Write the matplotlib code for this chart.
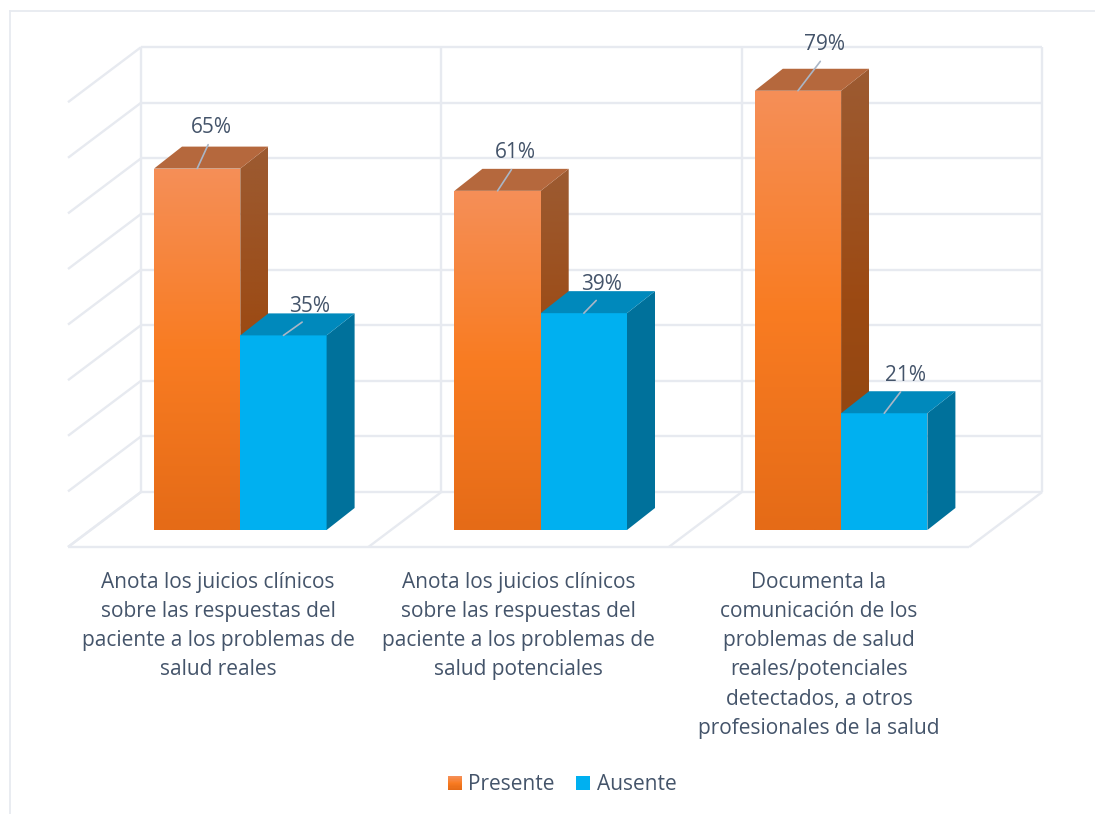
import numpy as np
import matplotlib
matplotlib.use("Agg")
import matplotlib.pyplot as plt
from matplotlib.colors import LinearSegmentedColormap
from matplotlib.legend_handler import HandlerBase
from matplotlib.lines import Line2D
from matplotlib.patches import Patch, Polygon, Rectangle


# -----------------------------
# Data
# -----------------------------
CATEGORIES = [
    "Anota los juicios clínicos\nsobre las respuestas del\npaciente a los problemas de\nsalud reales",
    "Anota los juicios clínicos\nsobre las respuestas del\npaciente a los problemas de\nsalud potenciales",
    "Documenta la\ncomunicación de los\nproblemas de salud\nreales/potenciales\ndetectados, a otros\nprofesionales de la salud",
]
PRESENTE = [65, 61, 79]
AUSENTE = [35, 39, 21]
GRID_VALUES = [0, 10, 20, 30, 40, 50, 60, 70, 80]


# -----------------------------
# Layout and style
# -----------------------------
WIDTH, HEIGHT = 1095, 814
FLOOR_LEFT_PX, FLOOR_FRONT_PX = 68, 547
PX_PER_CAT, PX_PER_PCT = 300.4, 5.56

WALL_DX, WALL_DY = 73 / PX_PER_CAT, 55 / PX_PER_PCT
BAR_DX, BAR_DY = 28 / PX_PER_CAT, 22 / PX_PER_PCT
BAR_LIFT = 17 / PX_PER_PCT
BAR_START = 86 / PX_PER_CAT
BAR_W = 86.3 / PX_PER_CAT

TEXT_COLOR = "#44546A"
GRID_COLOR = "#E7EAF0"
LEADER_COLOR = "#AAB6C6"
FONT = "Open Sans"
FONT_SIZE = 15

ORANGE_FRONT = LinearSegmentedColormap.from_list("of", ["#F58F58", "#F97C22", "#E56B17"])
ORANGE_SIDE = LinearSegmentedColormap.from_list("os", ["#9C5B32", "#9C4A13", "#8C4510"])
ORANGE_TOP = "#B5683D"
BLUE_FRONT = "#00B0F0"
BLUE_SIDE = "#00719B"
BLUE_TOP = "#0089BC"

# label offset from the middle of the bar top, in pixels
PRESENTE_OFFSETS = [(14, 41), (18, 38), (27, 46)]
AUSENTE_OFFSETS = [(26, 29), (18, 29), (21, 38)]


plt.rcParams["font.family"] = [FONT, "DejaVu Sans"]


# -----------------------------
# Drawing helpers
# -----------------------------
def gradient_poly(ax, points, cmap, zorder):
    pts = np.array(points)
    poly = Polygon(pts, closed=True, facecolor="none", edgecolor="none", zorder=zorder)
    ax.add_patch(poly)
    img = ax.imshow(
        np.linspace(0, 1, 256).reshape(-1, 1),
        cmap=cmap,
        aspect="auto",
        origin="upper",
        extent=(pts[:, 0].min(), pts[:, 0].max(), pts[:, 1].min(), pts[:, 1].max()),
        zorder=zorder,
    )
    img.set_clip_path(poly)


def draw_bar(ax, x, value, w, front, side, top, zorder):
    base = BAR_LIFT
    high = value + BAR_LIFT
    front_pts = [(x, base), (x + w, base), (x + w, high), (x, high)]
    side_pts = [
        (x + w, base),
        (x + w + BAR_DX, base + BAR_DY),
        (x + w + BAR_DX, high + BAR_DY),
        (x + w, high),
    ]
    top_pts = [
        (x, high),
        (x + w, high),
        (x + w + BAR_DX, high + BAR_DY),
        (x + BAR_DX, high + BAR_DY),
    ]
    if isinstance(front, str):
        ax.add_patch(Polygon(front_pts, facecolor=front, edgecolor="none", zorder=zorder))
    else:
        gradient_poly(ax, front_pts, front, zorder)
    if isinstance(side, str):
        ax.add_patch(Polygon(side_pts, facecolor=side, edgecolor="none", zorder=zorder))
    else:
        gradient_poly(ax, side_pts, side, zorder)
    ax.add_patch(Polygon(top_pts, facecolor=top, edgecolor="none", zorder=zorder))


def draw_label(ax, x, value, w, offset):
    ax.annotate(
        f"{value}%",
        xy=(x + w / 2, value + BAR_LIFT),
        xytext=offset,
        textcoords="offset pixels",
        ha="center",
        va="center",
        fontsize=FONT_SIZE,
        color=TEXT_COLOR,
        zorder=20,
        arrowprops=dict(
            arrowstyle="-",
            color=LEADER_COLOR,
            lw=1.2,
            shrinkA=3,
            shrinkB=0,
            relpos=(0.5, 0),
        ),
    )


def draw_walls(ax):
    back_left = WALL_DX
    back_right = len(CATEGORIES) + WALL_DX
    style = dict(color=GRID_COLOR, lw=1.7, solid_capstyle="butt", zorder=1)
    for g in GRID_VALUES:
        ax.plot([back_left, back_right], [g + WALL_DY, g + WALL_DY], **style)
        ax.plot([0, back_left], [g, g + WALL_DY], **style)
    for i in range(len(CATEGORIES) + 1):
        ax.plot([i + WALL_DX, i + WALL_DX], [WALL_DY, GRID_VALUES[-1] + WALL_DY], **style)
        ax.plot([i, i + WALL_DX], [0, WALL_DY], **style)
    ax.plot([0, len(CATEGORIES)], [0, 0], **style)


class GradientSquare(HandlerBase):
    def create_artists(self, legend, orig_handle, xd, yd, width, height, fontsize, trans):
        n = 12
        strips = []
        for i in range(n):
            strips.append(
                Rectangle(
                    (xd * -1, -yd + height * (n - 1 - i) / n),
                    width,
                    height / n + 0.2,
                    facecolor=ORANGE_FRONT(i / (n - 1)),
                    edgecolor="none",
                    transform=trans,
                )
            )
        return strips


# -----------------------------
# Main program
# -----------------------------
def main():
    fig = plt.figure(figsize=(WIDTH / 100, HEIGHT / 100), dpi=100)
    ax = fig.add_axes([0, 0, 1, 1])
    ax.axis("off")

    fig.add_artist(Line2D([9.5 / WIDTH, 9.5 / WIDTH], [0, 1 - 11 / HEIGHT], color=GRID_COLOR, lw=1.3))
    fig.add_artist(Line2D([9.5 / WIDTH, 1], [1 - 11 / HEIGHT, 1 - 11 / HEIGHT], color=GRID_COLOR, lw=1.3))

    draw_walls(ax)

    for i in range(len(CATEGORIES)):
        x_p = i + BAR_START
        x_a = x_p + BAR_W
        draw_bar(ax, x_p, PRESENTE[i], BAR_W, ORANGE_FRONT, ORANGE_SIDE, ORANGE_TOP, 5 + 2 * i)
        draw_bar(ax, x_a, AUSENTE[i], BAR_W, BLUE_FRONT, BLUE_SIDE, BLUE_TOP, 6 + 2 * i)
        draw_label(ax, x_p, PRESENTE[i], BAR_W, PRESENTE_OFFSETS[i])
        draw_label(ax, x_a, AUSENTE[i], BAR_W, AUSENTE_OFFSETS[i])
        ax.text(
            i + 0.5,
            -25 / PX_PER_PCT,
            CATEGORIES[i],
            ha="center",
            va="top",
            fontsize=FONT_SIZE,
            color=TEXT_COLOR,
            linespacing=1.51,
        )

    ax.set_xlim(-FLOOR_LEFT_PX / PX_PER_CAT, (WIDTH - FLOOR_LEFT_PX) / PX_PER_CAT)
    ax.set_ylim((FLOOR_FRONT_PX - HEIGHT) / PX_PER_PCT, FLOOR_FRONT_PX / PX_PER_PCT)

    handles = [Patch(label="Presente"), Patch(facecolor=BLUE_FRONT, label="Ausente")]
    ax.legend(
        handles=handles,
        handler_map={handles[0]: GradientSquare()},
        loc="center",
        bbox_to_anchor=(562 / WIDTH, 1 - 785 / HEIGHT),
        ncol=2,
        frameon=False,
        fontsize=FONT_SIZE,
        labelcolor=TEXT_COLOR,
        handlelength=0.67,
        handleheight=0.67,
        handletextpad=0.3,
        columnspacing=1.05,
    )

    fig.savefig("out.png", dpi=100)


if __name__ == "__main__":
    main()
